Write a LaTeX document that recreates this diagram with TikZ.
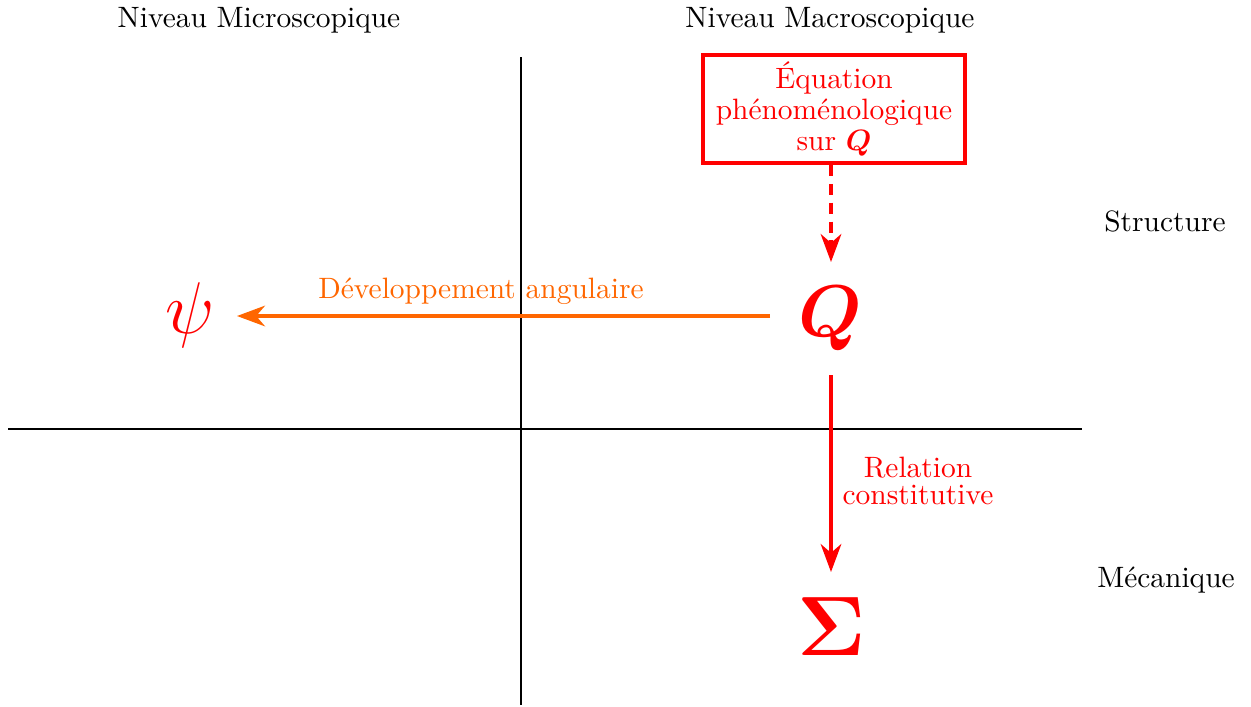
\documentclass[tikz,border=0pt]{standalone}
\usepackage{amsmath,bm}
\usetikzlibrary{arrows.meta}
\definecolor{myorange}{RGB}{255,102,0}
\begin{document}
\begin{tikzpicture}[x=0.01193cm,y=-0.01193cm,
  axis/.style={draw=black,line width=0.8pt},
  lbl/.style={font=\normalsize,inner sep=0pt},
  redarrow/.style={draw=red,line width=1.15pt,-{Stealth[length=9.5pt,width=7pt,inset=3pt]}},
  orangearrow/.style={draw=myorange,line width=1.15pt,-{Stealth[length=9.5pt,width=7pt,inset=3pt]}},
  bigsym/.style={text=red,inner sep=0pt}]
\useasboundingbox (0,0) rectangle (1251,706);
% axes
\coordinate (vtop) at (521,57);
\coordinate (vbot) at (521,705);
\coordinate (hleft) at (8,429);
\coordinate (hright) at (1082,429);
\draw[axis] (vtop) -- (vbot);
\draw[axis] (hleft) -- (hright);
% headings
\node[lbl] (micro) at (259,20) {Niveau Microscopique};
\node[lbl] (macro) at (830,20) {Niveau Macroscopique};
\node[lbl] (struct) at (1165,221) {Structure};
\node[lbl] (meca) at (1166,580) {Mécanique};
% box
\node[draw=red,line width=1.15pt,text=red,align=center,minimum width=262*0.01193cm,minimum height=108*0.01193cm,inner sep=2pt] (eq) at (834,109)
  {Équation\\[-1.5pt]phénoménologique\\[-1.5pt]sur $\boldsymbol{Q}$};
% symbols
\node[bigsym,font=\Huge] (Q) at (830,318) {$\boldsymbol{Q}$};
\node[bigsym,font=\Huge] (psi) at (190,315) {$\psi$};
\node[bigsym,font=\Huge,scale=1.15] (Sig) at (832,627) {$\boldsymbol{\Sigma}$};
% arrows
\coordinate (dstart) at (831,165);
\coordinate (dend) at (831,262);
\draw[redarrow,dash pattern=on 3.8pt off 2.6pt] (dstart) -- (dend);
\coordinate (ostart) at (770,316);
\coordinate (oend) at (237,316);
\draw[orangearrow] (ostart) -- (oend);
\coordinate (rstart) at (831,375);
\coordinate (rend) at (831,572);
\draw[redarrow] (rstart) -- (rend);
% labels
\node[text=myorange,lbl] (dev) at (481,291) {Développement angulaire};
\node[text=red,align=center,lbl] (rel) at (918,481) {Relation\\[-3pt]constitutive};
\end{tikzpicture}
\end{document}
